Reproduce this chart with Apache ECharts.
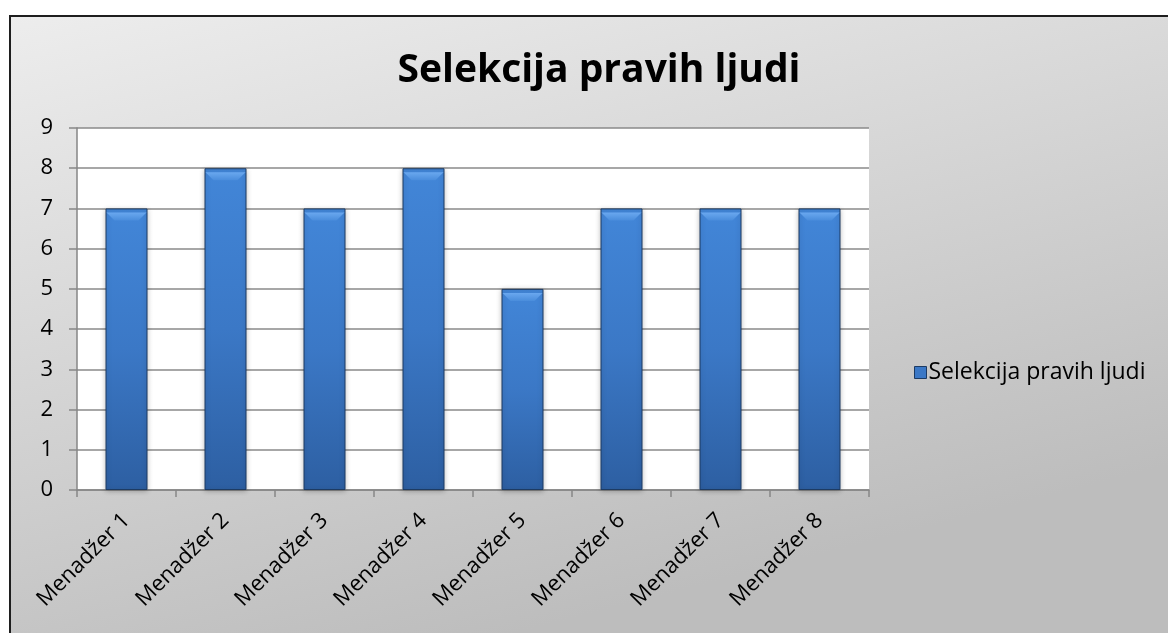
<!DOCTYPE html>
<html>
<head>
<meta charset="utf-8">
<script src="https://cdn.jsdelivr.net/npm/echarts@6/dist/echarts.min.js"></script>
<style>
html,body{margin:0;padding:0;background:#fff;}
#c{width:1168px;height:633px;}
</style>
</head>
<body>
<div id="c"></div>
<script>
const title = 'Selekcija pravih ljudi';
const categories = ['Menadžer 1','Menadžer 2','Menadžer 3','Menadžer 4','Menadžer 5','Menadžer 6','Menadžer 7','Menadžer 8'];
const values = [7, 8, 7, 8, 5, 7, 7, 7];
const yTicks = [0,1,2,3,4,5,6,7,8,9];

const FONT = 'Open Sans';
const chart = echarts.init(document.getElementById('c'), null, {renderer:'canvas'});
const barGrad = new echarts.graphic.LinearGradient(0,0,0,1,[
  {offset:0,color:'#4286d8'},
  {offset:0.5,color:'#3b78c6'},
  {offset:1,color:'#2d5fa2'}
]);
chart.setOption({
  animation:false,
  graphic:[{
    type:'rect', z:-10, silent:true,
    shape:{x:10,y:16,width:1200,height:700},
    style:{
      fill:new echarts.graphic.LinearGradient(0,0,0.15,1,[
        {offset:0,color:'#ededed'},
        {offset:1,color:'#bdbdbd'}
      ]),
      stroke:'#1e1e1e', lineWidth:2
    }
  }],
  title:{
    text:title, left:594, top:46, textAlign:'center',
    textStyle:{fontFamily:FONT,fontWeight:'bold',fontSize:39,color:'#000'}
  },
  legend:{
    data:[{name:title}],
    left:909, top:356, itemWidth:12, itemHeight:12, itemGap:4,
    icon:'rect',
    itemStyle:{color:'#3b78c6',borderColor:'#1d3b63',borderWidth:1},
    textStyle:{fontFamily:FONT,fontSize:23,color:'#000',padding:[0,0,0,-3]}
  },
  grid:{left:77,right:299,top:128,bottom:143,show:true,backgroundColor:'#fff',borderWidth:0},
  xAxis:{
    type:'category', data:categories,
    axisLine:{lineStyle:{color:'#868686',width:1.5}},
    axisTick:{show:true,alignWithLabel:false,length:7,lineStyle:{color:'#868686',width:1.5}},
    axisLabel:{rotate:45,interval:0,margin:27,fontFamily:FONT,fontSize:22,color:'#000'}
  },
  yAxis:{
    type:'value', min:yTicks[0], max:yTicks[yTicks.length-1], interval:1,
    axisLine:{show:true,lineStyle:{color:'#868686',width:1.5}},
    axisTick:{show:true,length:8,lineStyle:{color:'#868686',width:1.5}},
    splitLine:{lineStyle:{color:'#8a8a8a',width:1.5}},
    axisLabel:{margin:24,fontFamily:FONT,fontSize:22,color:'#000'}
  },
  series:[{
    name:title, type:'bar', data:values, barWidth:42,
    itemStyle:{color:barGrad,borderColor:'#1d3b63',borderWidth:1,
      shadowColor:'rgba(0,0,0,0.25)',shadowBlur:5,shadowOffsetX:0,shadowOffsetY:1}
  },{
    name:'bevel', type:'pictorialBar', data:values, barWidth:42,
    symbol:'path://M0,0 L40,0 L32,8 L8,8 Z',
    symbolSize:[40,8], symbolPosition:'end', symbolOffset:[0,'50%'],
    itemStyle:{color:new echarts.graphic.LinearGradient(0,0,0,1,[
      {offset:0,color:'#6aa8ef'},{offset:1,color:'#4a8ddc'}])},
    z:3, silent:true, legendHoverLink:false
  }]
});
</script>
</body>
</html>
